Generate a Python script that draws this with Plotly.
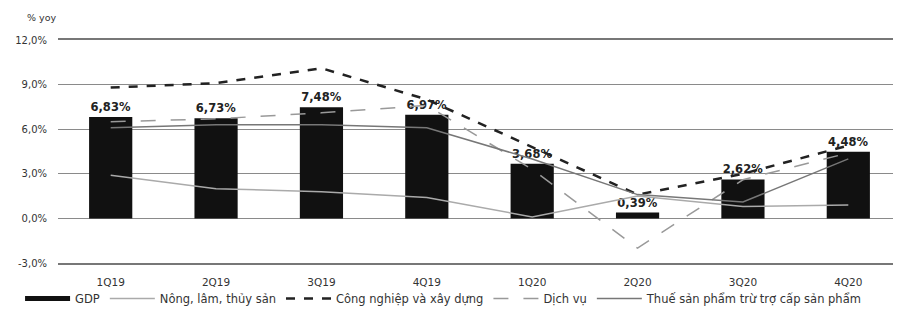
import plotly.graph_objects as go

quarters = ["1Q19", "2Q19", "3Q19", "4Q19", "1Q20", "2Q20", "3Q20", "4Q20"]
gdp = [6.82, 6.73, 7.48, 6.97, 3.68, 0.39, 2.62, 4.48]
gdp_labels = ["6,83%", "6,73%", "7,48%", "6,97%", "3,68%", "0,39%", "2,62%", "4,48%"]
agri = [2.9, 2.0, 1.8, 1.4, 0.1, 1.5, 0.8, 0.9]
industry = [8.8, 9.1, 10.1, 8.0, 4.8, 1.6, 3.0, 4.9]
services = [6.5, 6.7, 7.1, 7.6, 3.3, -2.0, 2.6, 4.4]
taxes = [6.1, 6.3, 6.3, 6.1, 4.0, 1.6, 1.1, 4.0]
y_ticks = [-3, 0, 3, 6, 9, 12]
y_tick_labels = ["-3,0%", "0,0%", "3,0%", "6,0%", "9,0%", "12,0%"]

FAM = "DejaVu Sans, Liberation Sans, Arial, sans-serif"
font = dict(family=FAM, size=10, color="#333")

fig = go.Figure()
fig.add_trace(go.Bar(
    x=quarters, y=gdp, name="GDP", showlegend=False,
    marker=dict(color="#111111", line=dict(width=0)),
    text=gdp_labels, textposition="outside", cliponaxis=False,
    textfont=dict(family=FAM, size=11.5, color="#222", weight="bold"),
))
# legend entry for GDP drawn as a thick line
fig.add_trace(go.Scatter(x=[None], y=[None], mode="lines", name="GDP",
                         line=dict(color="#111111", width=5)))
fig.add_trace(go.Scatter(x=quarters, y=agri, mode="lines", name="Nông, lâm, thủy sản",
                         line=dict(color="#aaaaaa", width=1.5)))
fig.add_trace(go.Scatter(x=quarters, y=industry, mode="lines", name="Công nghiệp và xây dựng",
                         line=dict(color="#222222", width=2.5, dash="dash")))
fig.add_trace(go.Scatter(x=quarters, y=services, mode="lines", name="Dịch vụ",
                         line=dict(color="#999999", width=1.5, dash="longdash")))
fig.add_trace(go.Scatter(x=quarters, y=taxes, mode="lines", name="Thuế sản phẩm trừ trợ cấp sản phẩm",
                         line=dict(color="#777777", width=1.5)))

# the page body adds an 8px margin, so the figure is sized to fit the 901x311 window
fig.update_layout(
    width=893, height=303,
    margin=dict(l=50, r=0, t=32, b=48, autoexpand=False),
    plot_bgcolor="white", paper_bgcolor="white",
    font=font,
    bargap=0.59,
    showlegend=True,
    legend=dict(orientation="h", x=-0.045, xanchor="left", y=-0.094, yanchor="top",
                font=dict(family=FAM, size=11.5, color="#333"),
                itemwidth=45, tracegroupgap=0, bgcolor="rgba(0,0,0,0)"),
    annotations=[dict(text="% yoy", xref="paper", yref="paper", x=-0.019, y=1.0,
                      xanchor="center", yanchor="bottom", yshift=15, showarrow=False,
                      font=dict(family=FAM, size=9.5, color="#333"))],
)
fig.update_xaxes(showgrid=False, showline=True, mirror=True, linecolor="#777777", linewidth=1.5,
                 ticks="", tickfont=dict(size=10.5, color="#333"), ticklabelstandoff=9)
fig.update_yaxes(range=[-3, 12], tickvals=y_ticks, ticktext=y_tick_labels,
                 showgrid=True, gridcolor="#8a8a8a", gridwidth=1.2, zeroline=False,
                 showline=False,
                 tickfont=dict(size=10, color="#333"), ticklabelstandoff=10)

fig.write_html("out.html")
